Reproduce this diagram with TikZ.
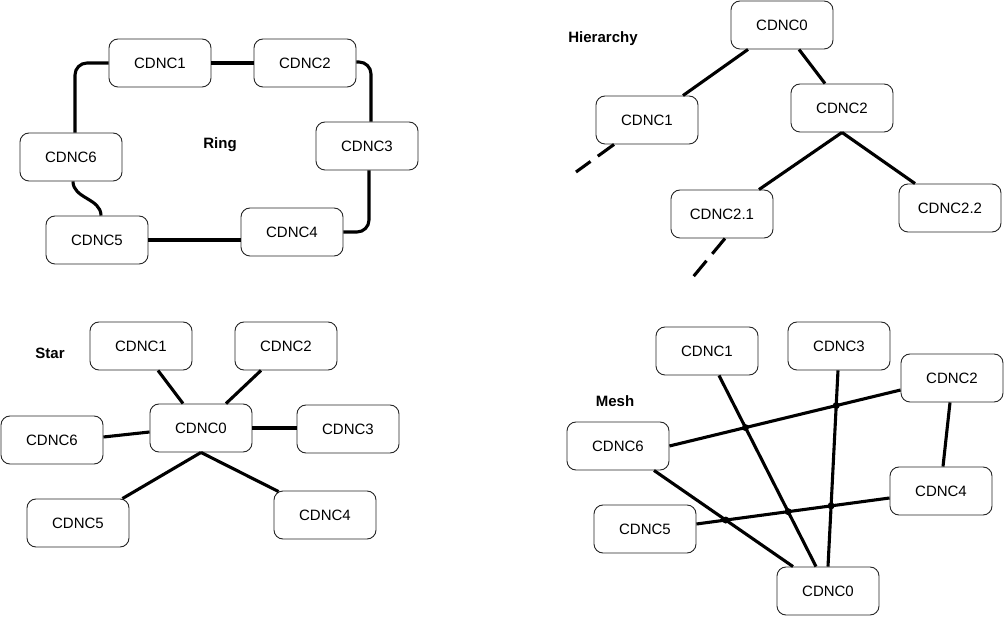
\documentclass[tikz,border=0pt]{standalone}
\usepackage{fontspec}
\setmainfont{Liberation Sans}
\usetikzlibrary{positioning,intersections}

\begin{document}
\begin{tikzpicture} [
                x=1pt, y=-1pt,
                cdncnode/.style={
                    rectangle,
                    draw=black!85,
                    line width=0.9pt,
                    rounded corners=9pt,
                    minimum width=102pt,
                    minimum height=48pt,
                    font=\fontsize{15}{18}\selectfont
                },
                toplabel/.style={
                    font=\fontsize{15}{18}\selectfont\bfseries
                },
                link/.style={
                    line width=3.1pt
                },
                stub/.style={
                    line width=3.1pt,
                    dash pattern=on 20pt off 9pt
                },
                crossdot/.style={
                    circle,
                    fill=black,
                    inner sep=0pt,
                    minimum size=7pt
                }
            ]
                \useasboundingbox (0,0) rectangle (1005,617);

                \node[cdncnode] (r1) at (160,63)  {CDNC1};
                \node[cdncnode] (r2) at (305,63)  {CDNC2};
                \node[cdncnode] (r3) at (367,146) {CDNC3};
                \node[cdncnode] (r4) at (292,232) {CDNC4};
                \node[cdncnode] (r5) at (97,240)  {CDNC5};
                \node[cdncnode] (r6) at (71,157)  {CDNC6};
                \node[toplabel] (ringlbl) at (220,145) {Ring};
                \draw[link, rounded corners=12pt] (r1.west) -| ([xshift=4pt]r6.north);
                \draw[link] (r1.east) -- (r2.east -| r2.west);
                \draw[link, rounded corners=12pt] ([yshift=1pt]r2.east) -| ([xshift=4pt]r3.north);
                \draw[link, rounded corners=12pt] ([xshift=2pt]r3.south) |- (r4.east);
                \draw[link] ([yshift=-8pt]r4.west) -- ([yshift=-8pt]r4.west -| r5.east);
                \draw[link] ([xshift=2pt]r6.south) to[out=-90, in=90] ([xshift=4pt]r5.north);

                \node[cdncnode] (h0)  at (782,25)  {CDNC0};
                \node[cdncnode] (h1)  at (647,120) {CDNC1};
                \node[cdncnode] (h2)  at (842,108) {CDNC2};
                \node[cdncnode] (h21) at (722,214) {CDNC2.1};
                \node[cdncnode] (h22) at (950,208) {CDNC2.2};
                \node[toplabel] (hierlbl) at (603,39) {Hierarchy};
                \coordinate (h1x)  at (576,172);
                \coordinate (h21x) at (693,277);
                \draw[link] ([xshift=-34pt]h0.south) -- ([xshift=36pt]h1.north);
                \draw[link] ([xshift=17pt]h0.south) -- ([xshift=-17pt]h2.north);
                \draw[link] (h2.south) -- ([xshift=37pt]h21.north);
                \draw[link] (h2.south) -- ([xshift=-35pt]h22.north);
                \draw[stub] ([xshift=-33pt]h1.south) -- (h1x);
                \draw[stub] ([xshift=3pt]h21.south) -- (h21x);

                \node[cdncnode] (s0) at (201,428) {CDNC0};
                \node[cdncnode] (s1) at (141,346) {CDNC1};
                \node[cdncnode] (s2) at (286,346) {CDNC2};
                \node[cdncnode] (s3) at (348,429) {CDNC3};
                \node[cdncnode] (s4) at (325,515) {CDNC4};
                \node[cdncnode] (s5) at (78,523)  {CDNC5};
                \node[cdncnode] (s6) at (52,440)  {CDNC6};
                \node[toplabel] (starlbl) at (50,353) {Star};
                \draw[link] ([xshift=17pt]s1.south) -- ([xshift=-18pt]s0.north);
                \draw[link] ([xshift=-25pt]s2.south) -- ([xshift=25pt]s0.north);
                \draw[link] ([yshift=3pt]s6.east) -- ([yshift=-4pt]s0.west);
                \draw[link] (s0.east) -- (s0.east -| s3.west);
                \draw[link] (s0.south) -- ([xshift=-7pt]s5.north east);
                \draw[link] (s0.south) -- ([xshift=5pt,yshift=-1pt]s4.north west);

                \node[cdncnode] (m0) at (828,591) {CDNC0};
                \node[cdncnode] (m1) at (707,351) {CDNC1};
                \node[cdncnode] (m2) at (952,378) {CDNC2};
                \node[cdncnode] (m3) at (839,346) {CDNC3};
                \node[cdncnode] (m4) at (941,491) {CDNC4};
                \node[cdncnode] (m5) at (645,529) {CDNC5};
                \node[cdncnode] (m6) at (618,446) {CDNC6};
                \node[toplabel] (meshlbl) at (615,401) {Mesh};
                \draw[link, name path=p10] ([xshift=12pt]m1.south) -- ([xshift=-12pt]m0.north);
                \draw[link, name path=p30] ([xshift=-1pt]m3.south) -- (m0.north);
                \draw[link, name path=p62] (m6.east) -- ([yshift=-12pt]m2.west);
                \draw[link, name path=p60] ([xshift=36pt]m6.south) -- ([xshift=-35pt]m0.north);
                \draw[link] ([xshift=-2pt]m2.south) -- ([xshift=2pt]m4.north);
                \draw[link, name path=p54] ([yshift=5pt]m5.east) -- ([yshift=-7pt]m4.west);
                \path[name intersections={of=p10 and p62, name=xa}] node[crossdot] (dota) at (xa-1) {};
                \path[name intersections={of=p30 and p62, name=xb}] node[crossdot] (dotb) at (xb-1) {};
                \path[name intersections={of=p10 and p54, name=xc}] node[crossdot] (dotc) at (xc-1) {};
                \path[name intersections={of=p30 and p54, name=xd}] node[crossdot] (dotd) at (xd-1) {};
                \path[name intersections={of=p60 and p54, name=xe}] node[crossdot] (dote) at (xe-1) {};
            \end{tikzpicture}
\end{document}
